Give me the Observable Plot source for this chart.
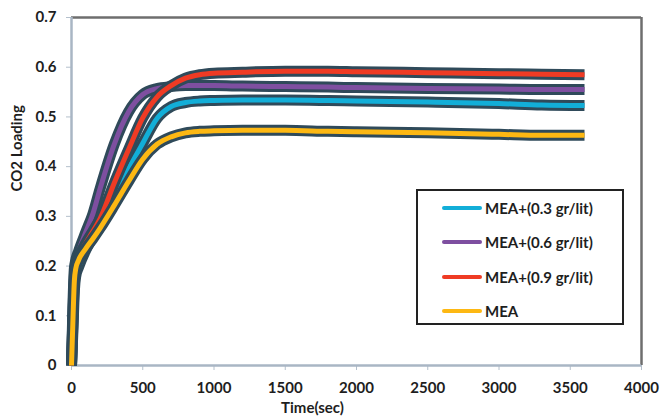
<!DOCTYPE html>
<html>
<head>
<meta charset="utf-8">
<script src="https://cdn.jsdelivr.net/npm/d3@7"></script>
<script src="https://cdn.jsdelivr.net/npm/@observablehq/plot@0.6"></script>
<style>
  html, body { margin: 0; padding: 0; background: #fff; }
  #wrap { position: relative; width: 661px; height: 420px; font-family: Lato, "Open Sans", sans-serif; }
  #legend {
    position: absolute; left: 416px; top: 189px; width: 204px; height: 132px;
    border: 2.7px solid #222; background: #fff; box-sizing: content-box;
  }
  .item { position: absolute; left: 24px; height: 20px; display: flex; align-items: center; }
  .swatch { width: 40px; height: 4px; border-radius: 2px; margin-right: 3px; }
  .lab { font-weight: bold; font-size: 15px; color: #1e1e1e; white-space: nowrap; }
</style>
</head>
<body>
<div id="wrap"></div>
<script>
// Absorption time, seconds
const time = [0, 10, 20, 30, 50, 100, 150, 200, 300, 400, 500, 600, 700, 800, 900, 1000, 1200, 1500, 1800, 2000, 2500, 3000, 3300, 3600];

// CO2 loading for each absorbent
const mea03 = [0, 0.07, 0.15, 0.18, 0.198, 0.232, 0.258, 0.283, 0.338, 0.395, 0.447, 0.497, 0.521, 0.529, 0.532, 0.533, 0.534, 0.534, 0.533, 0.532, 0.530, 0.527, 0.524, 0.523];
const mea06 = [0, 0.12, 0.195, 0.212, 0.23, 0.268, 0.305, 0.355, 0.445, 0.51, 0.545, 0.557, 0.561, 0.563, 0.563, 0.563, 0.562, 0.561, 0.560, 0.559, 0.557, 0.556, 0.555, 0.555];
const mea09 = [0, 0.10, 0.18, 0.205, 0.219, 0.246, 0.27, 0.295, 0.367, 0.434, 0.498, 0.540, 0.563, 0.578, 0.585, 0.588, 0.590, 0.592, 0.592, 0.591, 0.589, 0.587, 0.586, 0.585];
const mea   = [0, 0.09, 0.17, 0.195, 0.212, 0.235, 0.255, 0.276, 0.322, 0.37, 0.415, 0.445, 0.460, 0.468, 0.471, 0.472, 0.473, 0.473, 0.471, 0.470, 0.468, 0.465, 0.463, 0.463];

const seriesNames = ["MEA+(0.3 gr/lit)", "MEA+(0.6 gr/lit)", "MEA+(0.9 gr/lit)", "MEA"];
const seriesValues = [mea03, mea06, mea09, mea];
const seriesColors = ["#12aed8", "#7e4fa0", "#ef3b24", "#fdb813"];
const outlineColor = "#2f4a5a";

const xTicks = [0, 500, 1000, 1500, 2000, 2500, 3000, 3500, 4000];
const yTicks = [0, 0.1, 0.2, 0.3, 0.4, 0.5, 0.6, 0.7];
const yTickLabels = ["0", "0.1", "0.2", "0.3", "0.4", "0.5", "0.6", "0.7"];

const rows = seriesNames.map((name, i) => time.map((t, j) => ({series: name, t, v: seriesValues[i][j]})));

// each series: dark outline first, then its coloured core, so later series sit on top
const curveMarks = rows.flatMap((data, i) => [
  Plot.line(data, {x: "t", y: "v", stroke: outlineColor, strokeWidth: 11, curve: "monotone-x", strokeLinejoin: "round", strokeLinecap: "butt"}),
  Plot.line(data, {x: "t", y: "v", stroke: seriesColors[i], strokeWidth: 5, curve: "monotone-x", strokeLinejoin: "round", strokeLinecap: "butt"})
]);

const chart = Plot.plot({
  width: 661,
  height: 420,
  marginLeft: 71,
  marginRight: 20,
  marginTop: 17,
  marginBottom: 55,
  style: {fontFamily: "Lato, 'Open Sans', sans-serif", fontSize: "15px", fontWeight: "bold", color: "#1e1e1e", background: "#fff"},
  x: {domain: [0, 4000]},
  y: {domain: [0, 0.7]},
  marks: [
    Plot.axisX({ticks: xTicks, tickSize: 5, tickPadding: 12, tickFormat: d => String(d), stroke: "#b4c0cc", fill: "#1e1e1e", label: null}),
    Plot.axisY({ticks: yTicks, tickSize: 5, tickPadding: 10, tickFormat: (d, i) => yTickLabels[i], stroke: "#b4c0cc", fill: "#1e1e1e", label: null}),
    // frame: grey top and right edges, light blue-grey axes
    Plot.ruleY([0.7], {stroke: "#6e6e6e", strokeWidth: 2.5}),
    Plot.ruleX([4000], {stroke: "#6e6e6e", strokeWidth: 2.5}),
    Plot.ruleX([0], {stroke: "#a9b6c4", strokeWidth: 2.5}),
    Plot.ruleY([0], {stroke: "#a9b6c4", strokeWidth: 2.5}),
    ...curveMarks,
    Plot.text(["Time(sec)"], {frameAnchor: "bottom-left", dx: 241, dy: 47, fontSize: 15, fontWeight: "bold", fill: "#1e1e1e", textAnchor: "middle"}),
    Plot.text(["CO2 Loading"], {frameAnchor: "left", dx: -54, dy: 0, rotate: -90, fontSize: 15, fontWeight: "bold", fill: "#1e1e1e"})
  ]
});

const wrap = document.getElementById("wrap");
wrap.appendChild(chart);

const legend = document.createElement("div");
legend.id = "legend";
const rowTops = [7, 41, 76, 110];
seriesNames.forEach((name, i) => {
  const item = document.createElement("div");
  item.className = "item";
  item.style.top = rowTops[i] + "px";
  const sw = document.createElement("div");
  sw.className = "swatch";
  sw.style.background = seriesColors[i];
  const lab = document.createElement("span");
  lab.className = "lab";
  lab.textContent = name;
  item.appendChild(sw);
  item.appendChild(lab);
  legend.appendChild(item);
});
wrap.appendChild(legend);
</script>
</body>
</html>
